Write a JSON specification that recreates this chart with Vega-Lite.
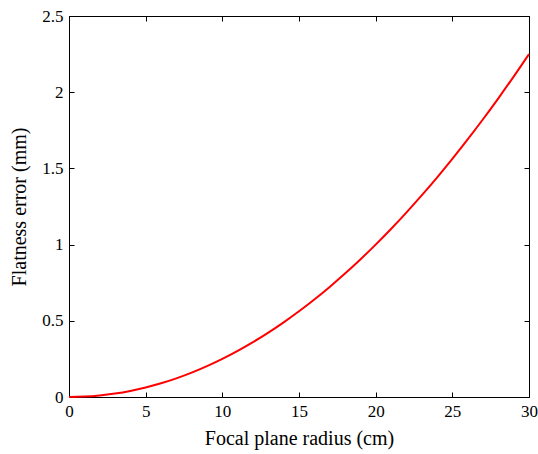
{
  "$schema": "https://vega.github.io/schema/vega-lite/v6.json",
  "width": 460,
  "height": 381,
  "autosize": "none",
  "padding": {"left": 69, "top": 16, "right": 9, "bottom": 57},
  "background": "white",
  "config": {
    "view": {"stroke": "black", "strokeWidth": 1},
    "axis": {
      "labelFont": "'Times New Roman', 'Liberation Serif', serif",
      "titleFont": "'Times New Roman', 'Liberation Serif', serif",
      "labelFontSize": 17,
      "titleFontSize": 20,
      "titleFontWeight": "normal",
      "labelColor": "black",
      "titleColor": "black",
      "domainColor": "black",
      "tickColor": "black",
      "grid": false,
      "tickSize": -5,
      "labelPadding": 11,
      "labelFlush": false,
      "labelOverlap": false,
      "format": "~g"
    }
  },
  "data": {"values": [
    {"r": 0, "e": 0}, {"r": 1, "e": 0.0025}, {"r": 2, "e": 0.01}, {"r": 3, "e": 0.0225},
    {"r": 4, "e": 0.04}, {"r": 5, "e": 0.0625}, {"r": 6, "e": 0.09}, {"r": 7, "e": 0.1225},
    {"r": 8, "e": 0.16}, {"r": 9, "e": 0.2025}, {"r": 10, "e": 0.25}, {"r": 11, "e": 0.3025},
    {"r": 12, "e": 0.36}, {"r": 13, "e": 0.4225}, {"r": 14, "e": 0.49}, {"r": 15, "e": 0.5625},
    {"r": 16, "e": 0.64}, {"r": 17, "e": 0.7225}, {"r": 18, "e": 0.81}, {"r": 19, "e": 0.9025},
    {"r": 20, "e": 1.0}, {"r": 21, "e": 1.1025}, {"r": 22, "e": 1.21}, {"r": 23, "e": 1.3225},
    {"r": 24, "e": 1.44}, {"r": 25, "e": 1.5625}, {"r": 26, "e": 1.69}, {"r": 27, "e": 1.8225},
    {"r": 28, "e": 1.96}, {"r": 29, "e": 2.1025}, {"r": 30, "e": 2.25}
  ]},
  "layer": [
    {
      "mark": {"type": "line", "color": "#ff0000", "strokeWidth": 2, "interpolate": "monotone"},
      "encoding": {
        "x": {"field": "r", "type": "quantitative", "scale": {"domain": [0, 30], "nice": false}, "axis": {"title": "Focal plane radius (cm)", "values": [0, 5, 10, 15, 20, 25, 30], "titlePadding": 9}},
        "y": {"field": "e", "type": "quantitative", "scale": {"domain": [0, 2.5], "nice": false}, "axis": {"title": "Flatness error (mm)", "values": [0, 0.5, 1, 1.5, 2, 2.5], "titlePadding": 12}}
      }
    },
    {
      "mark": {"type": "point", "opacity": 0},
      "encoding": {
        "x": {"field": "r", "type": "quantitative", "axis": {"orient": "top", "labels": false, "title": null, "values": [0, 5, 10, 15, 20, 25, 30]}},
        "y": {"field": "e", "type": "quantitative", "axis": {"orient": "right", "labels": false, "title": null, "values": [0, 0.5, 1, 1.5, 2, 2.5]}}
      }
    }
  ],
  "resolve": {"axis": {"x": "independent", "y": "independent"}}
}
